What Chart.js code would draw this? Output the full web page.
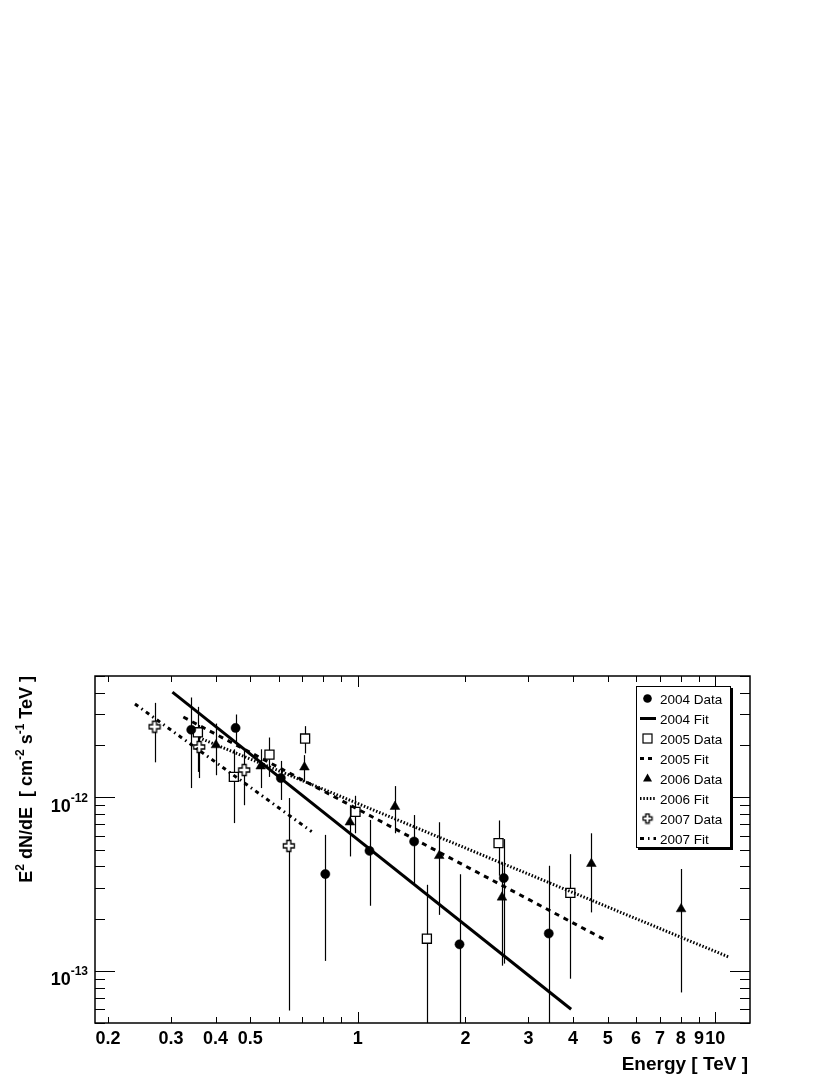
<!DOCTYPE html>
<html lang="en">
<head>
<meta charset="UTF-8">
<title>E2 dN/dE spectrum</title>
<script src="https://cdn.jsdelivr.net/npm/chart.js"></script>
<style>
  body { margin: 0; background: #fff; }
  canvas { display: block; }
</style>
</head>
<body>
<canvas id="myChart" width="830" height="1075"></canvas>
<script>
// energy [TeV] and E^2 dN/dE [cm^-2 s^-1 TeV], with error bar ends
var e2004 = [0.342, 0.455, 0.609, 0.811, 1.078, 1.437, 1.925, 2.56, 3.42];
var f2004 = [2.45e-12, 2.51e-12, 1.29e-12, 3.61e-13, 4.91e-13, 5.56e-13, 1.42e-13, 3.42e-13, 1.64e-13];
var lo2004 = [1.13e-12, 2.02e-12, 9.65e-13, 1.14e-13, 2.37e-13, 3.2e-13, 4e-14, 1.1e-13, 4e-14];
var hi2004 = [3.76e-12, 3.0e-12, 1.62e-12, 6.07e-13, 7.4e-13, 7.9e-13, 3.6e-13, 5.74e-13, 4.03e-13];

var e2005 = [0.357, 0.45, 0.566, 0.712, 0.985, 1.56, 2.475, 3.93];
var f2005 = [2.37e-12, 1.31e-12, 1.76e-12, 2.18e-12, 8.23e-13, 1.53e-13, 5.44e-13, 2.81e-13];
var lo2005 = [1.4e-12, 7.1e-13, 1.31e-12, 1.79e-12, 6.2e-13, 4e-14, 3.53e-13, 9.0e-14];
var hi2005 = [3.32e-12, 1.89e-12, 2.21e-12, 2.57e-12, 1.02e-12, 3.13e-13, 7.35e-13, 4.7e-13];

var e2006 = [0.401, 0.535, 0.709, 0.95, 1.27, 1.689, 2.53, 4.5, 8.02];
var f2006 = [2.0e-12, 1.51e-12, 1.49e-12, 7.18e-13, 8.83e-13, 4.6e-13, 2.65e-13, 4.14e-13, 2.27e-13];
var lo2006 = [1.34e-12, 1.13e-12, 1.23e-12, 4.56e-13, 6.2e-13, 2.1e-13, 1.07e-13, 2.17e-13, 7.5e-14];
var hi2006 = [2.66e-12, 1.89e-12, 1.75e-12, 9.0e-13, 1.16e-12, 7.18e-13, 4.2e-13, 6.2e-13, 3.86e-13];

var e2007 = [0.27, 0.36, 0.481, 0.641];
var f2007 = [2.55e-12, 1.95e-12, 1.435e-12, 5.25e-13];
var lo2007 = [1.59e-12, 1.29e-12, 9.0e-13, 5.9e-14];
var hi2007 = [3.5e-12, 2.61e-12, 1.87e-12, 9.9e-13];

// power-law fits: end points of each straight (log-log) line
var fitE2004 = [0.303, 3.95];
var fitF2004 = [4.04e-12, 6.0e-14];
var fitE2005 = [0.325, 4.97];
var fitF2005 = [2.9e-12, 1.49e-13];
var fitE2006 = [0.36, 10.9];
var fitF2006 = [2.2e-12, 1.2e-13];
var fitE2007 = [0.238, 0.743];
var fitF2007 = [3.45e-12, 6.34e-13];

var xTickLabels = [0.2, 0.3, 0.4, 0.5, 1, 2, 3, 4, 5, 6, 7, 8, 9, 10];
var yTickExps = [-13, -12];

var FONT = '"Liberation Sans", Arial, Helvetica, sans-serif';

function pts(xs, ys) {
    return xs.map(function (x, i) { return { x: x, y: ys[i] }; });
}

// open cross marker (ROOT style 28)
function makeCross(h, a) {
    var c = document.createElement('canvas');
    c.width = c.height = Math.ceil(2 * h + 3);
    var g = c.getContext('2d');
    var m = c.width / 2;
    g.translate(m, m);
    g.beginPath();
    g.moveTo(-a, -h); g.lineTo(a, -h); g.lineTo(a, -a); g.lineTo(h, -a);
    g.lineTo(h, a); g.lineTo(a, a); g.lineTo(a, h); g.lineTo(-a, h);
    g.lineTo(-a, a); g.lineTo(-h, a); g.lineTo(-h, -a); g.lineTo(-a, -a);
    g.closePath();
    g.fillStyle = '#fff'; g.fill();
    g.lineWidth = 1.3; g.strokeStyle = '#000'; g.stroke();
    return c;
}
var crossImg = makeCross(5.5, 2);
var crossSmall = makeCross(4.5, 1.7);

var errorSets = [
    [e2004, lo2004, hi2004],
    [e2005, lo2005, hi2005],
    [e2006, lo2006, hi2006],
    [e2007, lo2007, hi2007]
];

// error bars, under the markers
var errorBars = {
    id: 'errorBars',
    beforeDatasetsDraw: function (chart) {
        var ctx = chart.ctx, a = chart.chartArea;
        var xs = chart.scales.x, ys = chart.scales.y;
        ctx.save();
        ctx.beginPath();
        ctx.rect(a.left, a.top, a.right - a.left, a.bottom - a.top);
        ctx.clip();
        ctx.strokeStyle = '#000';
        ctx.lineWidth = 1.2;
        errorSets.forEach(function (s) {
            s[0].forEach(function (e, i) {
                var px = Math.round(xs.getPixelForValue(e)) + 0.5;
                ctx.beginPath();
                ctx.moveTo(px, ys.getPixelForValue(s[1][i]));
                ctx.lineTo(px, ys.getPixelForValue(s[2][i]));
                ctx.stroke();
            });
        });
        ctx.restore();
    }
};

function drawSupText(ctx, parts, x, y, big, small, rise) {
    // parts: [text, isSup]
    var cx = x;
    parts.forEach(function (p) {
        ctx.font = 'bold ' + (p[1] ? small : big) + 'px ' + FONT;
        ctx.fillText(p[0], cx, p[1] ? y - rise : y);
        cx += ctx.measureText(p[0]).width;
    });
    return cx - x;
}
function measureSup(ctx, parts, big, small) {
    var w = 0;
    parts.forEach(function (p) {
        ctx.font = 'bold ' + (p[1] ? small : big) + 'px ' + FONT;
        w += ctx.measureText(p[0]).width;
    });
    return w;
}

var legendItems = [
    { label: '2004 Data', kind: 'circle' },
    { label: '2004 Fit', kind: 'line', dash: [], width: 3 },
    { label: '2005 Data', kind: 'square' },
    { label: '2005 Fit', kind: 'line', dash: [4, 4], width: 3 },
    { label: '2006 Data', kind: 'triangle' },
    { label: '2006 Fit', kind: 'line', dash: [1.5, 1.8], width: 3 },
    { label: '2007 Data', kind: 'cross' },
    { label: '2007 Fit', kind: 'line', dash: [4, 4, 1.5, 4], width: 3 }
];

// ROOT-like frame, inward ticks, labels, titles and legend
var rootFrame = {
    id: 'rootFrame',
    afterDraw: function (chart) {
        var ctx = chart.ctx, a = chart.chartArea;
        var xs = chart.scales.x, ys = chart.scales.y;
        ctx.save();
        ctx.strokeStyle = '#000';
        ctx.fillStyle = '#000';

        // frame
        ctx.lineWidth = 1.5;
        ctx.strokeRect(a.left, a.top, a.right - a.left, a.bottom - a.top);

        // x ticks
        ctx.lineWidth = 1;
        for (var ex = -1; ex <= 1; ex++) {
            for (var m = 1; m <= 9; m++) {
                var v = m * Math.pow(10, ex);
                if (v < xs.min || v > xs.max) continue;
                var px = Math.round(xs.getPixelForValue(v)) + 0.5;
                var len = m === 1 ? 11 : 6;
                ctx.beginPath();
                ctx.moveTo(px, a.bottom); ctx.lineTo(px, a.bottom - len);
                ctx.moveTo(px, a.top); ctx.lineTo(px, a.top + len);
                ctx.stroke();
            }
        }
        // y ticks
        for (var ey = -14; ey <= -12; ey++) {
            for (var n = 1; n <= 9; n++) {
                var w = n * Math.pow(10, ey);
                if (w < ys.min || w > ys.max) continue;
                var py = Math.round(ys.getPixelForValue(w)) + 0.5;
                var l2 = n === 1 ? 20 : 10;
                ctx.beginPath();
                ctx.moveTo(a.left, py); ctx.lineTo(a.left + l2, py);
                ctx.moveTo(a.right, py); ctx.lineTo(a.right - l2, py);
                ctx.stroke();
            }
        }

        // x tick labels
        ctx.font = 'bold 18px ' + FONT;
        ctx.textAlign = 'center';
        ctx.textBaseline = 'alphabetic';
        xTickLabels.forEach(function (v) {
            ctx.fillText(String(v), xs.getPixelForValue(v), 1043.5);
        });

        // y tick labels 10^n
        ctx.textAlign = 'left';
        yTickExps.forEach(function (e) {
            var py = ys.getPixelForValue(Math.pow(10, e));
            var parts = [['10', false], [String(e), true]];
            var wd = measureSup(ctx, parts, 18, 12);
            drawSupText(ctx, parts, a.left - 7 - wd, py + 14.5, 18, 12, 10);
        });

        // x title
        ctx.font = 'bold 19px ' + FONT;
        ctx.textAlign = 'right';
        ctx.fillText('Energy [ TeV ]', 748, 1070);

        // y title, rotated, ending at the top of the frame
        ctx.textAlign = 'left';
        var tparts = [['E', false], ['2', true], [' dN/dE  [ cm', false], ['-2', true],
                      [' s', false], ['-1', true], [' TeV ]', false]];
        var tw = measureSup(ctx, tparts, 18, 12);
        ctx.save();
        ctx.translate(32, a.top + tw);
        ctx.rotate(-Math.PI / 2);
        drawSupText(ctx, tparts, 0, 0, 18, 12, 8);
        ctx.restore();

        // legend box with shadow
        var L = 636, T = 686, R = 731, B = 848;
        ctx.fillStyle = '#000';
        ctx.fillRect(L + 2, T + 2, R - L, B - T);
        ctx.fillStyle = '#fff';
        ctx.fillRect(L, T, R - L, B - T);
        ctx.lineWidth = 1;
        ctx.strokeRect(L + 0.5, T + 0.5, R - L - 1, B - T - 1);
        ctx.save();
        ctx.beginPath();
        ctx.rect(L + 1, T + 1, R - L - 2, B - T - 2);
        ctx.clip();
        ctx.font = '13.5px ' + FONT;
        ctx.textBaseline = 'middle';
        legendItems.forEach(function (it, i) {
            var y = 699.5 + i * 20;
            var sx = 647.5;
            ctx.fillStyle = '#000';
            ctx.strokeStyle = '#000';
            if (it.kind === 'circle') {
                ctx.beginPath(); ctx.arc(sx, y - 1, 4.3, 0, Math.PI * 2); ctx.fill();
            } else if (it.kind === 'square') {
                ctx.fillStyle = '#fff'; ctx.lineWidth = 1.2;
                ctx.fillRect(sx - 4.5, y - 5.5, 9, 9);
                ctx.strokeRect(sx - 4.5, y - 5.5, 9, 9);
            } else if (it.kind === 'triangle') {
                ctx.beginPath();
                ctx.moveTo(sx, y - 6); ctx.lineTo(sx + 4.5, y + 2); ctx.lineTo(sx - 4.5, y + 2);
                ctx.closePath(); ctx.fill();
            } else if (it.kind === 'cross') {
                ctx.drawImage(crossSmall, sx - crossSmall.width / 2, y - 1 - crossSmall.height / 2);
            } else {
                ctx.lineWidth = it.width;
                ctx.setLineDash(it.dash);
                ctx.beginPath(); ctx.moveTo(640, y - 1); ctx.lineTo(656, y - 1); ctx.stroke();
                ctx.setLineDash([]);
            }
            ctx.fillStyle = '#000';
            ctx.textAlign = 'left';
            ctx.fillText(it.label, 660, y + 1);
        });
        ctx.restore();

        ctx.restore();
    }
};

var config = {
    type: 'scatter',
    data: {
        datasets: [
            { label: '2004 Fit', data: pts(fitE2004, fitF2004), showLine: true, pointRadius: 0,
              borderColor: '#000', borderWidth: 3, borderDash: [] },
            { label: '2005 Fit', data: pts(fitE2005, fitF2005), showLine: true, pointRadius: 0,
              borderColor: '#000', borderWidth: 3, borderDash: [5, 5] },
            { label: '2006 Fit', data: pts(fitE2006, fitF2006), showLine: true, pointRadius: 0,
              borderColor: '#000', borderWidth: 3, borderDash: [1.5, 1.8] },
            { label: '2007 Fit', data: pts(fitE2007, fitF2007), showLine: true, pointRadius: 0,
              borderColor: '#000', borderWidth: 3, borderDash: [4, 4, 1.5, 4] },
            { label: '2004 Data', data: pts(e2004, f2004), pointStyle: 'circle', pointRadius: 4.6,
              backgroundColor: '#000', borderColor: '#000', borderWidth: 0.5 },
            { label: '2005 Data', data: pts(e2005, f2005), pointStyle: 'rect', pointRadius: 6.4,
              backgroundColor: '#fff', borderColor: '#000', borderWidth: 1.3 },
            { label: '2006 Data', data: pts(e2006, f2006), pointStyle: 'triangle', pointRadius: 5.6,
              backgroundColor: '#000', borderColor: '#000', borderWidth: 0.5 },
            { label: '2007 Data', data: pts(e2007, f2007), pointStyle: crossImg, pointRadius: 6 }
        ]
    },
    options: {
        responsive: false,
        animation: false,
        devicePixelRatio: 1,
        layout: { padding: { left: 95, right: 80, top: 676, bottom: 52 } },
        scales: {
            x: { type: 'logarithmic', min: 0.184, max: 12.5, bounds: 'data', display: false },
            y: { type: 'logarithmic', min: 5e-14, max: 5e-12, bounds: 'data', display: false }
        },
        plugins: {
            legend: { display: false },
            tooltip: { enabled: false }
        }
    },
    plugins: [errorBars, rootFrame]
};

var ctx = document.getElementById('myChart').getContext('2d');
var chart = new Chart(ctx, config);
</script>
</body>
</html>
